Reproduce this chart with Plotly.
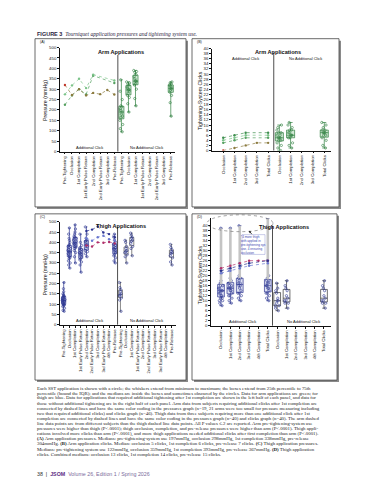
import numpy as np
import plotly.graph_objects as go

W, H = 369, 480
def px(x): return x / W
def py(y): return 1 - y / H

# ---------------- Panel A: arm pressures (mmHg) ----------------
cats_A = ["Pre-Tightening", "Occlusion", "1st Completion", "1st Early Pulse Return",
          "2nd Completion", "2nd Early Pulse Return", "3rd Completion", "Pre-Release"]
armP_add_s1 = [225, 270, 300, 275, 365, None, None, 330]
armP_add_s2 = [275, 318, 350, 305, 370, None, None, 342]
armP_add_s3 = [320, 272, 300, 270, 282, 276, 296, 274]
armP_no_pre = [95, 110, 130, 150, 165, 170, 180, 190, 197, 205, 215, 220, 250, 290, 345]
armP_no_occ = [190, 230, 260, 270, 280, 290, 295, 298, 305, 310, 320, 325, 330, 335]
armP_no_c1 = [220, 255, 300, 320, 325, 335, 338, 340, 350, 360, 370, 380, 385, 390]
armP_no_rel = [170, 235, 270, 285, 295, 300, 304, 310, 315, 320, 325, 330, 335]

# ---------------- Panel B: arm clicks ----------------
cats_B = ["Occlusion", "1st Completion", "2nd Completion", "3rd Completion", "Total Clicks"]
armC_add_s1 = [0, 1, 2, 3, 3]
armC_add_s2 = [3, 4, 5, None, 5]
armC_add_s3 = [4, 5, 6, None, 6]
armC_add_s4 = [5, 6, 7, None, 7]
armC_no_occ = [0, 1, 2, 3, 4, 4, 5, 5, 5, 6, 6, 7, 7, 8, 9, 10]
armC_no_c1 = [1, 2, 3, 5, 5, 6, 6, 6, 7, 7, 8, 8, 9, 10, 11]
armC_no_tot = [1, 2, 4, 5, 6, 6, 7, 7, 7, 8, 8, 9, 10, 11]

# ---------------- Panel C: thigh pressures (mmHg) ----------------
cats_C = ["Pre-Tightening", "Occlusion", "1st Completion", "1st Early Pulse Return",
          "2nd Completion", "2nd Early Pulse Return", "3rd Completion",
          "3rd Early Pulse Return", "4th Completion", "Pre-Release"]
thighP_add_pre = [65, 70, 80, 88, 92, 95, 98, 100, 105, 108, 110, 112, 115, 118, 120,
                  122, 125, 128, 130, 135, 138, 140, 145, 150, 160, 175, 205]
thighP_add_occ = [275, 290, 300, 310, 320, 325, 330, 335, 340, 345, 350, 355, 355, 360,
                  365, 370, 375, 380, 385, 390, 400, 410, 420, 440, 470]
thighP_add_c1 = [300, 330, 350, 360, 370, 375, 380, 385, 390, 395, 395, 400, 405, 410,
                 415, 420, 425, 430, 440, 450, 465, 485]
thighP_add_epr1 = [255, 290, 305, 315, 320, 330, 335, 340, 345, 350, 355, 360, 365, 370,
                   375, 385, 400, 440]
thighP_add_c2 = [330, 345, 355, 360, 370, 380, 385, 390, 400, 405, 410, 420, 440, 475]
thighP_add_rel = [300, 310, 325, 335, 340, 350, 355, 360, 365, 370, 375, 380, 385, 390,
                  395, 400, 410, 425, 440]
thighP_add_s1 = [None, None, None, None, 455, 462, 477, 448, 440, 425]
thighP_add_s2 = [None, None, None, None, 420, 408, 425, 432, 415, 410]
thighP_add_s3 = [None, None, None, None, 385, 380, 400, 398, 402, 395]
thighP_no_pre = [65, 120, 130, 140, 145, 150, 160, 170, 180, 205]
thighP_no_occ = [300, 330, 340, 350, 355, 360, 370, 380, 400, 410]
thighP_no_c1 = [335, 370, 380, 395, 405, 410, 420, 425, 435, 445]
thighP_no_rel = [290, 305, 325, 335, 345, 350, 355, 365, 375, 390]

# ---------------- Panel D: thigh clicks ----------------
cats_D = ["Occlusion", "1st Completion", "2nd Completion", "3rd Completion",
          "4th Completion", "Total Clicks"]
thighC_ticks = list(range(0, 41, 2))
thighC_add_occ = [8, 9, 10, 10, 11, 11, 12, 12, 13, 13, 14, 14, 14, 15, 15, 16, 16, 17,
                  17, 18, 21, 22, 39]
thighC_add_c1 = [9, 10, 11, 12, 12, 13, 14, 14, 15, 15, 15, 16, 16, 17, 17, 18, 19, 22,
                 23, 39]
thighC_add_c2 = [10, 11, 12, 13, 13, 14, 15, 16, 16, 17, 17, 18, 19, 19, 20, 24, 25, 40]
thighC_add_tot = [10, 11, 12, 13, 13, 14, 15, 15, 16, 16, 17, 17, 18, 18, 19, 20, 26, 26,
                  43]
thighC_add_s1 = [23, 24, 25, 26, 26, 26]
thighC_add_s2 = [22, 23, 24, 25, None, 26]
thighC_add_s3 = [21, 22, 23, 24, None, 25]
thighC_no_occ = [6, 7, 8, 8, 9, 10, 10, 11, 13, 14, 15, 17]
thighC_no_c1 = [7, 9, 9, 10, 10, 11, 12, 14, 15, 16, 18]
thighC_no_tot = [7, 9, 9, 10, 10, 11, 12, 14, 15, 16, 18]

note_D = "*4 more thigh<br>with applied in<br>pre-tightening sys<br>use, 4 ensuring<br>occlusion"

caption_lines = [
    "Each SST application is shown with a circle; the whiskers extend from minimum to maximum; the boxes extend from 25th percentile to 75th",
    "percentile (bound the IQR); and the medians are inside the boxes and sometimes obscured by the circles. Data for arm applications are green; for",
    "thigh are blue. Data for applications that required additional tightening after 1st completion are shown in the left half of each panel, and data for",
    "those without additional tightening are in the right half of each panel. Arm data from subjects requiring additional clicks after 1st completion are",
    "connected by dashed lines and have the same color coding in the pressures graph (n=19, 21 arms were too small for pressure measuring including",
    "two that required additional clicks) and clicks graph (n=46). Thigh data from three subjects requiring more than one additional click after 1st",
    "completion are connected by dashed lines and have the same color coding in the pressures graph (n=40) and clicks graph (n=40). The arm dashed",
    "line data points are from different subjects than the thigh dashed line data points. All P values \u2264.2 are reported. Arm pre-tightening-system use",
    "pressures were higher than thigh (P&lt;.0001); thigh occlusion, completion, and pre-release pressures were higher than arm (P&lt;.0001). Thigh appli-",
    "cations involved more clicks than arm (P&lt;.0001), and more thigh applications needed additional clicks after first completion than arm (P&lt;.0001).",
    "<b>(A)</b> Arm application pressures. Medians: pre-tightening-system use 197mmHg, occlusion 298mmHg, 1st completion 338mmHg, pre-release",
    "304mmHg. <b>(B)</b> Arm application clicks. Median: occlusion 5 clicks, 1st completion 6 clicks, pre-release 7 clicks. <b>(C)</b> Thigh application pressures.",
    "Medians: pre-tightening system use 122mmHg, occlusion 359mmHg, 1st completion 393mmHg, pre-release 367mmHg. <b>(D)</b> Thigh application",
    "clicks. Combined medians: occlusion 13 clicks, 1st completion 14 clicks, pre-release 15 clicks.",
]

GREEN = "#2f7f3f"
GREEN_FILL = "rgba(140,200,150,0.40)"
BLUE = "#2c3590"
BLUE_FILL = "rgba(160,170,220,0.35)"
GRAY = "#555555"
SANS = "Liberation Sans"
SERIF = "Liberation Serif"

def keys(cats, tag):
    return [c + "|" + tag for c in cats]

kA = keys(cats_A, "a") + keys(cats_A, "n")
kB = keys(cats_B, "a") + keys(cats_B, "n")
kC = keys(cats_C, "a") + keys(cats_C, "n")
kD = keys(cats_D, "a") + keys(cats_D, "n")

fig = go.Figure()

def add_boxes(xk, samples, ax, line_color, fill, mcolor, width=0.72, halo=False):
    xa, ya = ax
    q1 = [float(np.percentile(s, 25)) for s in samples]
    med = [float(np.percentile(s, 50)) for s in samples]
    q3 = [float(np.percentile(s, 75)) for s in samples]
    lo = [min(s) for s in samples]
    hi = [max(s) for s in samples]
    if halo:  # broad light-grey band behind the long upper whiskers
        for k, a, b in zip(xk, q3, hi):
            fig.add_trace(go.Scatter(x=[k, k], y=[a, b], mode="lines",
                                     line=dict(color="#c4c4c4", width=2.6),
                                     xaxis=xa, yaxis=ya, hoverinfo="skip"))
    fig.add_trace(go.Box(x=xk, q1=q1, median=med, q3=q3, lowerfence=lo, upperfence=hi,
                         boxpoints=False, width=width, whiskerwidth=0.5,
                         line=dict(color=line_color, width=0.7), fillcolor=fill,
                         xaxis=xa, yaxis=ya, hoverinfo="skip"))
    for k, s in zip(xk, samples):
        fig.add_trace(go.Box(x=[k] * len(s), y=s, boxpoints="all", jitter=0.75, pointpos=0,
                             width=width, fillcolor="rgba(0,0,0,0)",
                             line=dict(width=0, color="rgba(0,0,0,0)"),
                             marker=dict(symbol="circle-open", size=2.3, color=mcolor,
                                         line=dict(width=0.6, color=mcolor)),
                             xaxis=xa, yaxis=ya, hoverinfo="skip"))

def add_line(xk, vals, ax, color, mcolors=None):
    xa, ya = ax
    fig.add_trace(go.Scatter(x=xk, y=vals, mode="lines+markers", connectgaps=True,
                             line=dict(color=color, width=0.7, dash="dot"),
                             marker=dict(size=2.4, color=mcolors or color, symbol="circle"),
                             xaxis=xa, yaxis=ya, hoverinfo="skip"))

# Panel A
A = ("x", "y")
kAa, kAn = keys(cats_A, "a"), keys(cats_A, "n")
add_line(kAa, armP_add_s1, A, "#55a060")
add_line(kAa, armP_add_s2, A, "#7cc48a")
add_line(kAa, armP_add_s3, A, "#8c7b3f", ["#c0392b"] + ["#8c7b3f"] * 7)
add_boxes([kAn[0], kAn[1], kAn[2], kAn[7]],
          [armP_no_pre, armP_no_occ, armP_no_c1, armP_no_rel], A, GREEN, GREEN_FILL, GREEN)

# Panel B
B = ("x2", "y2")
kBa, kBn = keys(cats_B, "a"), keys(cats_B, "n")
add_line(kBa, armC_add_s1, B, "#8c7b3f", ["#c0392b"] + ["#8c7b3f"] * 4)
add_line(kBa, armC_add_s2, B, "#55a060")
add_line(kBa, armC_add_s3, B, "#7cc48a")
add_line(kBa, armC_add_s4, B, "#3f8f4f")
add_boxes([kBn[0], kBn[1], kBn[4]], [armC_no_occ, armC_no_c1, armC_no_tot], B,
          GREEN, GREEN_FILL, GREEN)

# Panel C
C = ("x3", "y3")
kCa, kCn = keys(cats_C, "a"), keys(cats_C, "n")
add_boxes([kCa[0], kCa[1], kCa[2], kCa[3], kCa[4], kCa[9]],
          [thighP_add_pre, thighP_add_occ, thighP_add_c1, thighP_add_epr1,
           thighP_add_c2, thighP_add_rel], C, BLUE, BLUE_FILL, BLUE)
add_line(kCa, thighP_add_s1, C, "#2a3290")
add_line(kCa, thighP_add_s2, C, "#6a78d0")
add_line(kCa, thighP_add_s3, C, "#b0306a")
add_boxes([kCn[0], kCn[1], kCn[2], kCn[9]],
          [thighP_no_pre, thighP_no_occ, thighP_no_c1, thighP_no_rel], C,
          GRAY, "rgba(255,255,255,0.6)", BLUE)

# Panel D
D = ("x4", "y4")
kDa, kDn = keys(cats_D, "a"), keys(cats_D, "n")
add_boxes([kDa[0], kDa[1], kDa[2], kDa[5]],
          [thighC_add_occ, thighC_add_c1, thighC_add_c2, thighC_add_tot], D,
          BLUE, BLUE_FILL, BLUE, halo=True)
add_line(kDa, thighC_add_s1, D, "#b0306a")
add_line(kDa, thighC_add_s2, D, "#2a3290")
add_line(kDa, thighC_add_s3, D, "#6a78d0")
add_boxes([kDn[0], kDn[1], kDn[5]], [thighC_no_occ, thighC_no_c1, thighC_no_tot], D,
          "#333333", "rgba(255,255,255,0.6)", BLUE)

# ---------------- axes ----------------
def xax(dom, cats_keys, labels, rng):
    return dict(domain=dom, type="category", categoryorder="array", categoryarray=cats_keys,
                range=rng, tickmode="array", tickvals=cats_keys, ticktext=labels,
                tickangle=-90, tickfont=dict(size=4.3, family=SANS, color="#111"),
                ticks="outside", ticklen=2, tickwidth=0.6, tickcolor="#111",
                showline=True, linecolor="#111", linewidth=0.7, showgrid=False,
                zeroline=False, fixedrange=True)

def yax(dom, rng, dtick, anchor):
    return dict(domain=dom, range=rng, dtick=dtick, tick0=0, anchor=anchor,
                tickfont=dict(size=4.3, family=SANS, color="#111"),
                ticks="outside", ticklen=2, tickwidth=0.6, tickcolor="#111",
                showline=True, linecolor="#111", linewidth=0.7, showgrid=False,
                zeroline=False, fixedrange=True)

# panel D: 0..40 spans y 319 -> 218 px; range extended to 43 so the top whisker shows
d_top = 319 - (319 - 218) * 43 / 40
yax4 = yax([py(319), py(d_top)], [0, 43], 2, "x4")
yax4.update(tickmode="array", tickvals=thighC_ticks)

fig.update_layout(
    width=W, height=H, autosize=False, margin=dict(l=0, r=0, t=0, b=0),
    paper_bgcolor="white", plot_bgcolor="rgba(0,0,0,0)", showlegend=False,
    boxmode="overlay",
    xaxis=dict(xax([px(52), px(167)], kA, cats_A + cats_A, [-0.7, 15.6]), anchor="y"),
    yaxis=yax([py(143), py(38)], [0, 500], 50, "x"),
    xaxis2=dict(xax([px(204), px(323)], kB, cats_B + cats_B, [-1, 9.6]), anchor="y2"),
    yaxis2=yax([py(142), py(39)], [0, 40], 2, "x2"),
    xaxis3=dict(xax([px(52), px(168)], kC, cats_C + cats_C, [-0.65, 19.8]), anchor="y3"),
    yaxis3=yax([py(318), py(214)], [0, 500], 50, "x3"),
    xaxis4=dict(xax([px(203), px(323)], kD, cats_D + cats_D, [-1.07, 11.75]), anchor="y4"),
    yaxis4=yax4,
)

# ---------------- frames, dividers ----------------
shapes = []
frames = [(27, 29, 178, 199), (184, 29, 331, 199), (27, 206, 178, 374), (184, 206, 329, 374)]
for (x0, y0, x1, y1) in frames:
    shapes.append(dict(type="rect", xref="paper", yref="paper", layer="below",
                       x0=px(x0 + 2), x1=px(x1 + 2), y0=py(y1 + 2), y1=py(y0 + 2),
                       fillcolor="#8a8a8a", line=dict(width=0)))
    shapes.append(dict(type="rect", xref="paper", yref="paper", layer="below",
                       x0=px(x0), x1=px(x1), y0=py(y1), y1=py(y0),
                       fillcolor="white", line=dict(color="#444", width=0.8)))
for xr, yr, xpos, ytop in [("x", "y", 7.5, 0.93), ("x2", "y2", 4.5, 0.96),
                           ("x3", "y3", 9.5, 0.95), ("x4", "y4", 5.5, 0.93)]:
    shapes.append(dict(type="line", xref=xr, yref=yr + " domain", x0=xpos, x1=xpos,
                       y0=0, y1=ytop, line=dict(color="#222", width=0.8)))
# dotted oval around the tall thigh-click whiskers (panel D)
shapes.append(dict(type="circle", xref="paper", yref="paper",
                   x0=px(199), x1=px(265), y0=py(224), y1=py(207),
                   line=dict(color="#666", width=0.6, dash="dot")))
# thin frame around the note in panel D
shapes.append(dict(type="rect", xref="paper", yref="paper",
                   x0=px(234), x1=px(257), y0=py(247), y1=py(227),
                   line=dict(color="#7a82c8", width=0.4)))
fig.update_layout(shapes=shapes)

# ---------------- text ----------------
ann = []
def txt(x, y, s, size=4.3, bold=False, color="#111", font=SANS, xanchor="center",
        angle=0):
    ann.append(dict(x=px(x), y=py(y), xref="paper", yref="paper", showarrow=False,
                    text=("<b>%s</b>" % s) if bold else s, textangle=angle,
                    font=dict(size=size, family=font, color=color),
                    xanchor=xanchor, yanchor="middle"))

txt(27, 24, "<b><span style='font-family:Liberation Sans'>FIGURE 3</span></b>  "
    "<i>Tourniquet application pressures and tightening system use.</i>",
    size=5.5, font=SERIF, xanchor="left", color="#2a2340")
for lbl, (x0, y0, _, _) in zip(["(A)", "(B)", "(C)", "(D)"], frames):
    txt(x0 + 2.5, y0 + 3.5, lbl, size=3.6, xanchor="left")

txt(113, 42, "Arm Applications", size=5.6, bold=True)
txt(270, 42, "Arm Applications", size=5.6, bold=True)
txt(113, 218, "Thigh Applications", size=5.6, bold=True)
txt(276, 219, "Thigh Applications", size=5.6, bold=True)

# note + arrow in panel D
ann.append(dict(x=px(245.5), y=py(237), xref="paper", yref="paper", text=note_D,
                showarrow=False, align="left", xanchor="center", yanchor="middle",
                font=dict(size=3.1, family=SANS, color="#3a44b0")))
ann.append(dict(x=px(241), y=py(223), ax=4, ay=5, xref="paper", yref="paper",
                text="", showarrow=True, arrowhead=2, arrowsize=0.6, arrowwidth=0.8,
                arrowcolor="#222"))

txt(81, 138.5, "Additional Click", size=4.0)
txt(138, 138.5, "No Additional Click", size=4.0)
txt(237, 49, "Additional Click", size=4.0)
txt(297, 49, "No Additional Click", size=4.0)
txt(81, 314, "Additional Click", size=4.0)
txt(138, 314, "No Additional Click", size=4.0)
txt(234, 315, "Additional Click", size=4.0)
txt(295, 315, "No Additional Click", size=4.0)

txt(37, 92, "Pressure (mmHg)", size=5.2, angle=-90)
txt(192, 92, "Tightening-System Clicks", size=5.2, angle=-90)
txt(37, 268, "Pressure (mmHg)", size=5.2, angle=-90)
txt(192, 268, "Tightening-System Clicks", size=5.2, angle=-90)

for i, line in enumerate(caption_lines):
    txt(27, 382 + i * 5.18, line, size=4.85, font=SERIF, xanchor="left", color="#222")

txt(27, 469, "38  |  <b><span style='color:#5b2c83'>JSOM</span></b>  "
    "<span style='color:#7b6b9b'>Volume 26, Edition 1 / Spring 2026</span>",
    size=5.3, font=SANS, xanchor="left", color="#333")

fig.update_layout(annotations=ann)
fig.write_html("out.html")
